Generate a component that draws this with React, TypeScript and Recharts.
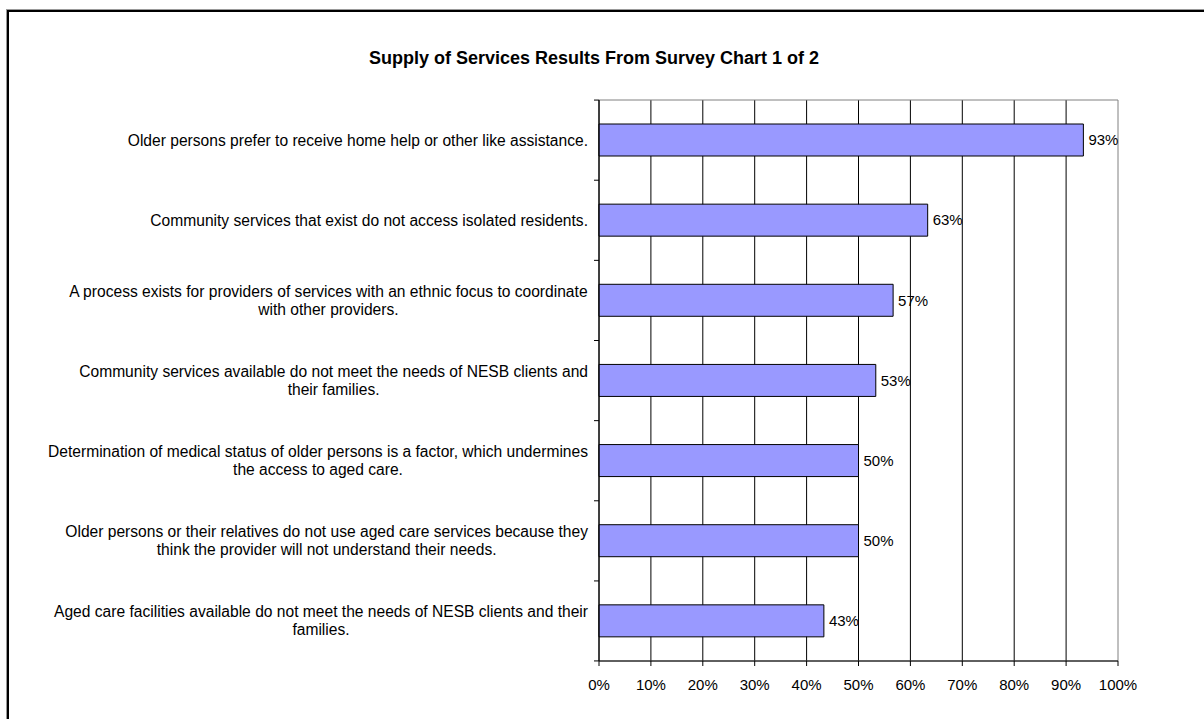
import React from "react";
import { BarChart, Bar, XAxis, YAxis, CartesianGrid, LabelList, ReferenceArea } from "recharts";

const categories: string[] = [
  "Older persons prefer to receive home help or other like assistance.",
  "Community services that exist do not access isolated residents.",
  "A process exists for providers of services with an ethnic focus to coordinate\nwith other providers.",
  "Community services available do not meet the needs of NESB clients and\ntheir families.",
  "Determination of medical status of older persons is a factor, which undermines\nthe access to aged care.",
  "Older persons or their relatives do not use aged care services because they\nthink the provider will not understand their needs.",
  "Aged care facilities available do not meet the needs of NESB clients and their\nfamilies.",
];

const values: number[] = [0.9333, 0.6333, 0.5667, 0.5333, 0.5, 0.5, 0.4333];

const xTicks: number[] = [0, 0.1, 0.2, 0.3, 0.4, 0.5, 0.6, 0.7, 0.8, 0.9, 1];

const title = "Supply of Services Results From Survey Chart 1 of 2";

const data = categories.map((c, i) => ({ category: c, value: values[i] }));

const FONT = "'Liberation Sans', Arial, Helvetica, sans-serif";
const FONT_SIZE = 15;
const CAT_FONT_SIZE = 15.6;
const BAND = 80;
const LINE_H = 18;

let ctx: CanvasRenderingContext2D | null = null;
function measure(t: string): number {
  if (!ctx) {
    const c = document.createElement("canvas");
    ctx = c.getContext("2d");
  }
  if (!ctx) return t.length * 7;
  ctx.font = `${CAT_FONT_SIZE}px ${FONT}`;
  return ctx.measureText(t).width;
}

const pct = (v: number) => `${Math.round(v * 100)}%`;

const CategoryTick = (props: any) => {
  const { x, y, payload, index } = props;
  const lines: string[] = String(payload.value).split("\n");
  const maxW = Math.max(...lines.map(measure));
  const cx = x - maxW / 2;
  const y0 = y - ((lines.length - 1) * LINE_H) / 2;
  const isLast = index === categories.length - 1;
  return (
    <g>
      <line x1={x + 6} x2={x + 11} y1={y - BAND / 2} y2={y - BAND / 2} stroke="#000" />
      {isLast && <line x1={x + 6} x2={x + 11} y1={y + BAND / 2} y2={y + BAND / 2} stroke="#000" />}
      <text x={cx} y={y0} textAnchor="middle" fill="#000" fontSize={CAT_FONT_SIZE} fontFamily={FONT}>
        {lines.map((l, i) => (
          <tspan key={i} x={cx} dy={i === 0 ? "0.35em" : LINE_H}>
            {l}
          </tspan>
        ))}
      </text>
    </g>
  );
};

const gridGen = (props: any) => {
  const s = props?.xAxis?.scale;
  if (typeof s === "function") {
    return xTicks.slice(0, -1).map((t) => s(t));
  }
  const off = props?.offset;
  if (off && typeof off.left === "number") {
    return xTicks.slice(0, -1).map((t) => off.left + t * off.width);
  }
  return [];
};

export default function App() {
  return (
    <div
      style={{
        position: "absolute",
        left: 0,
        top: 0,
        width: 1204,
        height: 719,
        overflow: "hidden",
        background: "#fff",
        fontFamily: FONT,
      }}
    >
      <div
        style={{
          position: "absolute",
          left: 7,
          top: 10,
          width: 1400,
          height: 900,
          borderTop: "2px solid #000",
          borderLeft: "2px solid #000",
          boxShadow: "-1px -1px 0 #999",
        }}
      />
      <div
        style={{
          position: "absolute",
          left: 0,
          top: 48,
          width: 1188,
          textAlign: "center",
          fontWeight: "bold",
          fontSize: 18,
          lineHeight: "20px",
          color: "#000",
        }}
      >
        {title}
      </div>
      <div style={{ position: "absolute", left: 0, top: 0 }}>
        <BarChart
          width={1204}
          height={719}
          data={data}
          layout="vertical"
          margin={{ top: 100, right: 86, bottom: 28, left: 0 }}
          barCategoryGap="30%"
        >
          <ReferenceArea x1={0} x2={1} stroke="#808080" strokeWidth={1} fill="none" fillOpacity={0} ifOverflow="extendDomain" />
          <CartesianGrid
            vertical={true}
            horizontal={false}
            stroke="#000"
            strokeWidth={1}
            verticalCoordinatesGenerator={gridGen}
          />
          <XAxis
            type="number"
            domain={[0, 1]}
            ticks={xTicks}
            tickFormatter={pct}
            height={30}
            tickSize={5}
            tickMargin={13}
            stroke="#000"
            tick={{ fill: "#000", fontSize: FONT_SIZE, fontFamily: FONT }}
            interval={0}
          />
          <YAxis
            type="category"
            dataKey="category"
            width={599}
            tickSize={0}
            tickMargin={11}
            stroke="#000"
            tickLine={false}
            tick={<CategoryTick />}
            interval={0}
          />
          <Bar
            dataKey="value"
            fill="#9999FF"
            stroke="#000"
            strokeWidth={1}
            barSize={32}
            isAnimationActive={false}
          >
            <LabelList
              dataKey="value"
              position="right"
              offset={5}
              formatter={(v: any) => pct(Number(v))}
              fill="#000"
              fontSize={FONT_SIZE}
              fontFamily={FONT}
            />
          </Bar>
        </BarChart>
      </div>
    </div>
  );
}
